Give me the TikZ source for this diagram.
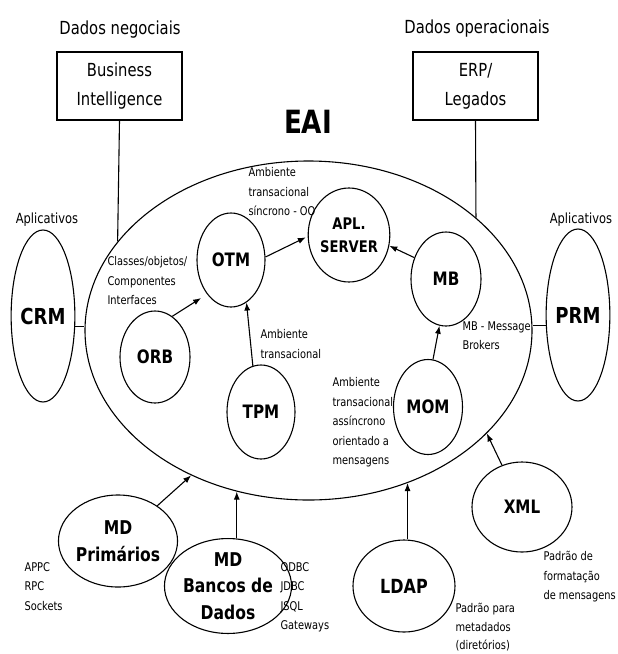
\documentclass[tikz,border=0pt]{standalone}
\usepackage{fontspec}
\setmainfont{DejaVu Sans}[FakeStretch=0.82]
\usetikzlibrary{arrows.meta,shapes.geometric,positioning}

\begin{document}
\begin{tikzpicture}[
  x=1pt, y=-1pt,
  line width=1.1pt,
  sz/.style 2 args={minimum width=#1pt, minimum height=#2pt},
  bubble/.style={draw, ellipse, inner sep=0pt, align=center,
    font=\bfseries\fontsize{18.5}{26}\selectfont},
  box/.style={draw, rectangle, inner sep=0pt, align=center, sz={125}{68},
    font=\fontsize{18}{29}\selectfont},
  head/.style={font=\fontsize{18}{22}\selectfont, anchor=base},
  apps/.style={font=\fontsize{14}{17}\selectfont, anchor=base},
  note/.style={font=\fontsize{12}{19.5}\selectfont, align=left,
    inner sep=0pt, anchor=north west},
  arrow/.style={-{Latex[length=8pt,width=6pt]}}
]
\useasboundingbox (0,0) rectangle (618,654);

% big EAI ellipse
\node[bubble, sz={447}{339}] (eai) at (308.5,330.5) {};
\node[font=\bfseries\fontsize{32}{36}\selectfont, anchor=base] (title) at (308,133) {EAI};

% data sources on top
\node[head] (hneg) at (120,34) {Dados negociais};
\node[head] (hop) at (477,33) {Dados operacionais};
\node[box] (bi) at (119.5,86) {Business\\Intelligence};
\node[box] (erp) at (475.5,86) {ERP/\\Legados};

% applications at the sides
\node[apps] (appl) at (47,223) {Aplicativos};
\node[apps] (appr) at (581,223) {Aplicativos};
\node[bubble, sz={62}{172}, font=\bfseries\fontsize{22}{26}\selectfont] (crm) at (43,316) {CRM};
\node[bubble, sz={62}{172}, font=\bfseries\fontsize{22}{26}\selectfont] (prm) at (578,315) {PRM};

% inner components
\node[bubble, sz={68}{94}] (otm) at (231,260) {OTM};
\node[bubble, sz={70}{92}] (orb) at (155,357) {ORB};
\node[bubble, sz={68}{94}] (tpm) at (261,412) {TPM};
\node[bubble, sz={68}{94}, font=\bfseries\fontsize{16}{23}\selectfont] (apl) at (349,235) {APL.\\SERVER};
\node[bubble, sz={70}{94}] (mb) at (446,279) {MB};
\node[bubble, sz={69}{95}] (mom) at (428,407) {MOM};

% middleware below
\node[bubble, sz={100}{92}, font=\bfseries\fontsize{19}{27}\selectfont] (mdp) at (118,541) {MD\\Primários};
\node[bubble, sz={100}{92}, font=\bfseries\fontsize{19}{26.5}\selectfont] (mdb) at (228,586) {MD\\Bancos de\\Dados};
\node[bubble, sz={102}{92}, font=\bfseries\fontsize{19.5}{26}\selectfont] (ldap) at (404,586) {LDAP};
\node[bubble, sz={100}{90}] (xml) at (522,507) {XML};

% notes
\node[note] (nsync) at (248,167) {Ambiente\\transacional\\síncrono - OO};
\node[note] (ncls) at (107,256) {Classes/objetos/\\Componentes\\Interfaces};
\node[note] (ntrans) at (260,329) {Ambiente\\transacional};
\node[note] (nmb) at (462,321) {MB - Message\\Brokers};
\node[note] (nasync) at (332,377) {Ambiente\\transacional\\assíncrono\\orientado a\\mensagens};
\node[note] (nrpc) at (24,562) {APPC\\RPC\\Sockets};
\node[note] (ndb) at (280,562) {ODBC\\JDBC\\JSQL\\Gateways};
\node[note, font=\fontsize{12}{18.5}\selectfont] (nmeta) at (455,603) {Padrão para\\metadados\\(diretórios)};
\node[note] (nfmt) at (543,551) {Padrão de\\formatação\\de mensagens};

% plain links
\draw (bi.south) -- (eai.155);
\draw (erp.south) -- (eai.34);
\draw (crm.342) -- (crm.342 -| eai.west);
\draw (prm.198) -- (prm.198 -| eai.east);

% arrows inside
\draw[arrow, shorten >=7pt] (orb.67) -- (otm.235);
\draw[arrow, shorten >=2pt] (otm.5) -- (apl.182);
\draw[arrow] (tpm.100) -- (otm.290);
\draw[arrow] (mb.146) -- (apl.345);
\draw[arrow] (mom.84) -- (mb.262);

% arrows into EAI
\draw[arrow] (mdp) -- (eai.231);
\draw[arrow] (mdb.north -| eai.246) -- (eai.246);
\draw[arrow] (ldap.north -| eai.303) -- (eai.303);
\draw[arrow] (xml) -- (eai.330);
\end{tikzpicture}
\end{document}
